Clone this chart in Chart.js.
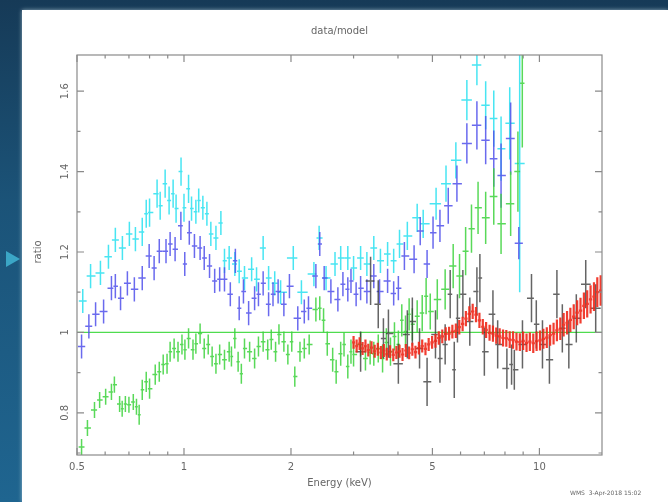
<!DOCTYPE html>
<html>
<head>
  <title>data/model</title>
  <script src="https://cdn.jsdelivr.net/npm/chart.js@4/dist/chart.umd.min.js"></script>
  <style>
    html, body { margin: 0; padding: 0; }
    body { width: 668px; height: 502px; overflow: hidden; position: relative;
      background: linear-gradient(180deg, #163a57 0%, #1b5378 40%, #1f6590 100%); }
    #panel { position: absolute; left: 22px; top: 10px; width: 646px; height: 492px; background: #fff;
      box-shadow: 0 0 4px rgba(200,220,230,0.7); }
    #arrow { position: absolute; left: 6px; top: 251px; width: 0; height: 0;
      border-top: 8px solid transparent; border-bottom: 8px solid transparent; border-left: 14px solid #3ba6c6; }
    #stamp { position: absolute; left: 570px; top: 489px; font: 6px "DejaVu Sans", sans-serif; color: #666; white-space: nowrap; }
    #wrap { position: absolute; left: 0; top: 0; width: 668px; height: 502px; }
  </style>
</head>
<body>
  <div id="panel"></div>
  <div id="arrow"></div>
  <div id="wrap"><canvas id="ratioChart" width="668" height="502"></canvas></div>
  <div id="stamp">WMS&nbsp; 3-Apr-2018 15:02</div>

  <script>
    // axis ticks
    const xTickValues = [0.5, 1, 2, 5, 10];
    const xTickLabels = ['0.5', '1', '2', '5', '10'];
    const xMinorTicks = [0.6, 0.7, 0.8, 0.9, 3, 4, 6, 7, 8, 9];
    const yTickValues = [0.8, 1, 1.2, 1.4, 1.6];
    const yTickLabels = ['0.8', '1', '1.2', '1.4', '1.6'];
    const yMinorTicks = [0.7, 0.9, 1.1, 1.3, 1.5];

    // cyan group
    const cyanEnergy = [0.519,0.546,0.582,0.613,0.641,0.671,0.702,0.73,0.763,0.783,0.80,0.84,0.857,0.885,0.908,0.932,0.95,0.981,1.0,1.03,1.05,1.08,1.10,1.13,1.16,1.19,1.23,1.27,1.30,1.34,1.39,1.43,1.48,1.55,1.60,1.67,1.73,1.80,1.87,2.03,2.14,2.32,2.40,2.51,2.66,2.76,2.89,3.0,3.14,3.27,3.42,3.57,3.74,3.89,4.04,4.25,4.53,4.71,5.12,5.46,5.82,6.25,6.67,7.06,7.44,7.8,8.25,8.8];
    const cyanRatio  = [1.078,1.14,1.148,1.188,1.23,1.21,1.245,1.232,1.25,1.295,1.298,1.345,1.315,1.37,1.328,1.345,1.308,1.40,1.31,1.357,1.308,1.30,1.328,1.31,1.295,1.245,1.235,1.272,1.178,1.185,1.17,1.152,1.135,1.157,1.132,1.21,1.135,1.122,1.10,1.185,1.10,1.145,1.235,1.135,1.17,1.185,1.185,1.16,1.185,1.17,1.21,1.178,1.195,1.178,1.22,1.24,1.285,1.27,1.32,1.37,1.428,1.578,1.665,1.565,1.532,1.457,1.52,1.42];
    const cyanErr    = [0.03,0.03,0.03,0.03,0.03,0.03,0.03,0.03,0.035,0.035,0.035,0.035,0.035,0.035,0.035,0.035,0.035,0.035,0.035,0.035,0.03,0.03,0.03,0.03,0.03,0.03,0.03,0.03,0.03,0.03,0.03,0.03,0.03,0.03,0.03,0.03,0.03,0.03,0.03,0.03,0.03,0.03,0.03,0.03,0.03,0.03,0.03,0.03,0.03,0.03,0.03,0.03,0.03,0.03,0.035,0.035,0.035,0.035,0.04,0.045,0.045,0.05,0.05,0.06,0.07,0.08,0.09,0.32];

    // blue group
    const blueEnergy = [0.515,0.54,0.564,0.594,0.625,0.641,0.663,0.693,0.725,0.763,0.798,0.824,0.852,0.89,0.914,0.944,0.98,1.005,1.035,1.07,1.11,1.14,1.18,1.22,1.26,1.30,1.35,1.395,1.43,1.47,1.52,1.58,1.62,1.67,1.73,1.78,1.84,1.91,1.98,2.09,2.18,2.24,2.35,2.41,2.48,2.59,2.71,2.80,2.89,2.95,3.05,3.14,3.27,3.42,3.55,3.74,3.89,4.01,4.17,4.44,4.62,4.83,5.02,5.25,5.54,5.86,6.25,6.67,7.06,7.44,7.8,8.3,8.75];
    const blueRatio  = [0.965,1.015,1.045,1.052,1.11,1.115,1.085,1.122,1.107,1.135,1.19,1.16,1.202,1.202,1.22,1.207,1.265,1.17,1.248,1.215,1.21,1.185,1.165,1.128,1.132,1.132,1.095,1.178,1.06,1.102,1.048,1.085,1.095,1.122,1.07,1.095,1.102,1.07,1.115,1.035,1.052,1.06,1.14,1.22,1.135,1.102,1.082,1.12,1.107,1.128,1.095,1.11,1.102,1.14,1.102,1.128,1.097,1.11,1.19,1.182,1.252,1.17,1.248,1.265,1.315,1.37,1.47,1.515,1.478,1.432,1.39,1.482,1.222];
    const blueErr    = [0.03,0.03,0.03,0.03,0.03,0.03,0.03,0.03,0.03,0.03,0.03,0.03,0.03,0.03,0.03,0.03,0.035,0.03,0.03,0.03,0.03,0.03,0.03,0.03,0.03,0.03,0.03,0.03,0.03,0.03,0.03,0.03,0.03,0.03,0.03,0.03,0.03,0.03,0.03,0.03,0.03,0.03,0.03,0.03,0.03,0.03,0.03,0.03,0.03,0.03,0.03,0.03,0.03,0.03,0.03,0.03,0.03,0.03,0.035,0.035,0.035,0.035,0.04,0.04,0.045,0.045,0.05,0.06,0.06,0.07,0.08,0.09,0.04];

    // green group
    const greenEnergy = [0.515,0.535,0.56,0.579,0.602,0.625,0.637,0.659,0.67,0.684,0.70,0.72,0.735,0.748,0.763,0.783,0.80,0.83,0.852,0.874,0.896,0.914,0.938,0.962,0.987,1.006,1.03,1.06,1.08,1.11,1.14,1.17,1.20,1.23,1.26,1.30,1.34,1.36,1.39,1.42,1.45,1.48,1.53,1.58,1.62,1.67,1.72,1.76,1.81,1.85,1.91,1.96,2.01,2.05,2.12,2.18,2.25,2.35,2.41,2.47,2.53,2.62,2.68,2.76,2.82,2.89,2.95,3.0,3.14,3.24,3.34,3.42,3.52,3.62,3.71,3.81,3.91,4.01,4.1,4.2,4.3,4.39,4.53,4.68,4.8,4.93,5.16,5.43,5.72,5.96,6.2,6.44,6.72,7.06,7.44,7.8,8.3,8.7,8.95];
    const greenRatio  = [0.715,0.762,0.807,0.832,0.84,0.852,0.87,0.822,0.81,0.822,0.82,0.827,0.815,0.795,0.857,0.877,0.86,0.895,0.902,0.92,0.922,0.952,0.96,0.952,0.97,0.957,0.985,0.957,0.972,0.997,0.96,0.97,0.94,0.922,0.945,0.932,0.952,0.94,0.985,0.927,0.897,0.96,0.952,0.935,0.965,0.977,0.957,0.982,0.952,0.995,0.977,0.945,0.977,0.89,0.952,0.96,0.97,1.057,1.06,1.03,0.972,0.932,0.902,0.947,0.97,0.915,0.952,0.945,0.97,0.935,0.95,0.947,0.96,0.935,0.975,0.952,0.99,0.97,1.03,1.002,1.045,1.02,1.04,1.048,1.09,1.052,1.082,1.107,1.165,1.14,1.202,1.258,1.31,1.285,1.338,1.27,1.32,1.40,1.62];
    const greenErr    = [0.02,0.02,0.02,0.02,0.02,0.02,0.02,0.02,0.02,0.02,0.02,0.02,0.02,0.025,0.025,0.025,0.025,0.025,0.025,0.025,0.025,0.025,0.025,0.025,0.025,0.025,0.025,0.025,0.025,0.025,0.025,0.025,0.025,0.025,0.025,0.025,0.025,0.025,0.025,0.025,0.025,0.025,0.025,0.025,0.025,0.025,0.025,0.025,0.025,0.025,0.025,0.025,0.025,0.025,0.025,0.025,0.025,0.03,0.03,0.03,0.03,0.03,0.03,0.03,0.03,0.03,0.03,0.03,0.03,0.03,0.03,0.03,0.035,0.035,0.035,0.035,0.035,0.035,0.04,0.04,0.04,0.04,0.04,0.045,0.045,0.045,0.05,0.05,0.055,0.055,0.06,0.06,0.065,0.065,0.07,0.075,0.08,0.1,0.16];

    // black group
    const blackEnergy = [3.14,3.35,3.52,3.64,3.76,4.01,4.25,4.39,4.6,4.83,5.1,5.25,5.43,5.61,5.76,5.88,6.09,6.37,6.67,6.8,7.0,7.4,7.63,8.1,8.35,8.5,8.96,9.5,9.8,10.2,10.67,11.2,11.6,12.1,12.7,13.5,14.4];
    const blackRatio  = [0.952,1.128,1.07,0.985,0.997,0.922,0.995,1.027,0.96,0.877,0.995,0.935,0.97,1.095,0.907,1.035,1.095,1.027,1.102,1.135,0.952,1.045,0.97,0.91,0.92,0.907,0.97,1.085,1.02,0.97,0.932,1.095,1.01,0.97,1.035,1.12,1.06];
    const blackErr    = [0.05,0.06,0.06,0.05,0.06,0.05,0.06,0.06,0.05,0.06,0.06,0.06,0.05,0.06,0.07,0.06,0.06,0.06,0.06,0.06,0.06,0.06,0.06,0.05,0.05,0.05,0.06,0.06,0.06,0.06,0.06,0.06,0.06,0.06,0.06,0.06,0.06];

    // red group
    const redEnergy = [3.0,3.06,3.12,3.18,3.24,3.3,3.37,3.44,3.51,3.58,3.65,3.72,3.8,3.88,3.96,4.04,4.12,4.21,4.3,4.39,4.48,4.58,4.68,4.78,4.88,4.99,5.1,5.21,5.33,5.45,5.57,5.69,5.82,5.95,6.08,6.21,6.35,6.49,6.63,6.78,6.93,7.08,7.24,7.4,7.56,7.73,7.9,8.07,8.25,8.43,8.62,8.81,9.0,9.2,9.4,9.61,9.82,10.04,10.26,10.49,10.72,10.96,11.2,11.45,11.7,11.96,12.22,12.49,12.77,13.05,13.34,13.63,13.93,14.24,14.55,14.87];
    const redRatio  = [0.975,0.966,0.972,0.96,0.966,0.956,0.962,0.953,0.958,0.95,0.955,0.946,0.952,0.944,0.95,0.953,0.945,0.955,0.949,0.958,0.951,0.961,0.966,0.959,0.97,0.975,0.979,0.986,0.99,0.996,0.997,1.002,1.004,1.013,1.021,1.034,1.046,1.052,1.044,1.03,1.014,1.006,0.999,0.997,0.992,0.99,0.986,0.985,0.982,0.981,0.977,0.976,0.979,0.974,0.977,0.973,0.978,0.98,0.984,0.987,0.993,0.997,1.005,1.009,1.019,1.024,1.031,1.039,1.049,1.054,1.066,1.071,1.082,1.089,1.1,1.104];
    const redErr    = [0.016,0.016,0.016,0.016,0.016,0.016,0.016,0.016,0.016,0.016,0.016,0.016,0.016,0.016,0.016,0.016,0.016,0.016,0.016,0.016,0.016,0.016,0.016,0.016,0.016,0.016,0.017,0.017,0.017,0.017,0.017,0.017,0.018,0.018,0.018,0.019,0.019,0.019,0.019,0.019,0.019,0.02,0.02,0.02,0.02,0.02,0.021,0.021,0.021,0.022,0.022,0.022,0.023,0.023,0.023,0.024,0.024,0.025,0.025,0.026,0.026,0.027,0.027,0.028,0.029,0.029,0.03,0.031,0.031,0.032,0.033,0.034,0.035,0.036,0.037,0.038];

    // model line
    const modelEnergy = [0.5, 15];
    const modelRatio = [1, 1];

    const FONT = '"DejaVu Sans", sans-serif';
    const TEXT = '#666';

    // bin edges: half way (in log) to each neighbour
    function binEdges(e) {
      return e.map((v, i) => {
        const prev = i > 0 ? e[i - 1] : v * v / e[i + 1];
        const next = i < e.length - 1 ? e[i + 1] : v * v / e[i - 1];
        return [Math.sqrt(prev * v), Math.sqrt(v * next)];
      });
    }

    function group(label, color, width, energy, ratio, err) {
      return {
        label: label,
        data: energy.map((e, i) => ({ x: e, y: ratio[i] })),
        yErr: err,
        xEdges: binEdges(energy),
        borderColor: color,
        borderWidth: width,
        showLine: false,
        pointRadius: 0,
        pointHoverRadius: 0
      };
    }

    const errorBars = {
      id: 'errorBars',
      afterDatasetsDraw(chart) {
        const { ctx, chartArea: a, scales: { x, y } } = chart;
        ctx.save();
        ctx.beginPath();
        ctx.rect(a.left, a.top, a.right - a.left, a.bottom - a.top);
        ctx.clip();
        chart.data.datasets.forEach(ds => {
          if (!ds.yErr) return;
          ctx.strokeStyle = ds.borderColor;
          ctx.lineWidth = ds.borderWidth;
          ds.data.forEach((p, i) => {
            const px = x.getPixelForValue(p.x), py = y.getPixelForValue(p.y);
            ctx.beginPath();
            ctx.moveTo(x.getPixelForValue(ds.xEdges[i][0]), py);
            ctx.lineTo(x.getPixelForValue(ds.xEdges[i][1]), py);
            ctx.moveTo(px, y.getPixelForValue(p.y - ds.yErr[i]));
            ctx.lineTo(px, y.getPixelForValue(p.y + ds.yErr[i]));
            ctx.stroke();
          });
        });
        ctx.restore();
      }
    };

    const frame = {
      id: 'frame',
      afterDraw(chart) {
        const { ctx, chartArea: a, scales: { x, y } } = chart;
        ctx.save();
        ctx.strokeStyle = '#8a8a8a';
        ctx.lineWidth = 1.2;
        ctx.strokeRect(a.left, a.top, a.right - a.left, a.bottom - a.top);
        ctx.beginPath();
        const xt = (vals, len) => vals.forEach(v => {
          const px = x.getPixelForValue(v);
          ctx.moveTo(px, a.bottom); ctx.lineTo(px, a.bottom - len);
          ctx.moveTo(px, a.top); ctx.lineTo(px, a.top + len);
        });
        const yt = (vals, len) => vals.forEach(v => {
          const py = y.getPixelForValue(v);
          ctx.moveTo(a.left, py); ctx.lineTo(a.left + len, py);
          ctx.moveTo(a.right, py); ctx.lineTo(a.right - len, py);
        });
        xt(xTickValues, 7); xt(xMinorTicks, 3.5);
        yt(yTickValues, 7); yt(yMinorTicks, 3.5);
        ctx.stroke();

        ctx.fillStyle = TEXT;
        ctx.font = '10px ' + FONT;
        ctx.textAlign = 'center';
        ctx.textBaseline = 'middle';
        xTickValues.forEach((v, i) => ctx.fillText(xTickLabels[i], x.getPixelForValue(v), 467));
        yTickValues.forEach((v, i) => {
          ctx.save();
          ctx.translate(65, y.getPixelForValue(v));
          ctx.rotate(-Math.PI / 2);
          ctx.fillText(yTickLabels[i], 0, 0);
          ctx.restore();
        });
        ctx.fillText('Energy (keV)', (a.left + a.right) / 2, 483);
        ctx.fillText('data/model', (a.left + a.right) / 2, 31);
        ctx.save();
        ctx.translate(38, 252);
        ctx.rotate(-Math.PI / 2);
        ctx.fillText('ratio', 0, 0);
        ctx.restore();
        ctx.restore();
      }
    };

    const ctx = document.getElementById('ratioChart').getContext('2d');
    const ratioChart = new Chart(ctx, {
      type: 'scatter',
      data: {
        datasets: [
          {
            label: 'model',
            type: 'line',
            data: modelEnergy.map((e, i) => ({ x: e, y: modelRatio[i] })),
            borderColor: '#4fdc4f',
            borderWidth: 1.4,
            pointRadius: 0,
            fill: false
          },
          group('group 5', 'rgba(40,225,240,0.85)', 1.5, cyanEnergy, cyanRatio, cyanErr),
          group('group 4', 'rgba(80,80,235,0.85)', 1.5, blueEnergy, blueRatio, blueErr),
          group('group 3', 'rgba(60,210,60,0.85)', 1.5, greenEnergy, greenRatio, greenErr),
          group('group 1', 'rgba(50,50,50,0.75)', 1.5, blackEnergy, blackRatio, blackErr),
          group('group 2', 'rgba(240,40,25,0.9)', 2.2, redEnergy, redRatio, redErr)
        ]
      },
      options: {
        responsive: false,
        animation: false,
        layout: { padding: { left: 77, right: 66, top: 55, bottom: 47 } },
        plugins: { legend: { display: false }, tooltip: { enabled: false } },
        scales: {
          x: { type: 'logarithmic', min: 0.5, max: 15, display: false },
          y: { type: 'linear', min: 0.695, max: 1.69, display: false }
        }
      },
      plugins: [errorBars, frame]
    });
  </script>
</body>
</html>
